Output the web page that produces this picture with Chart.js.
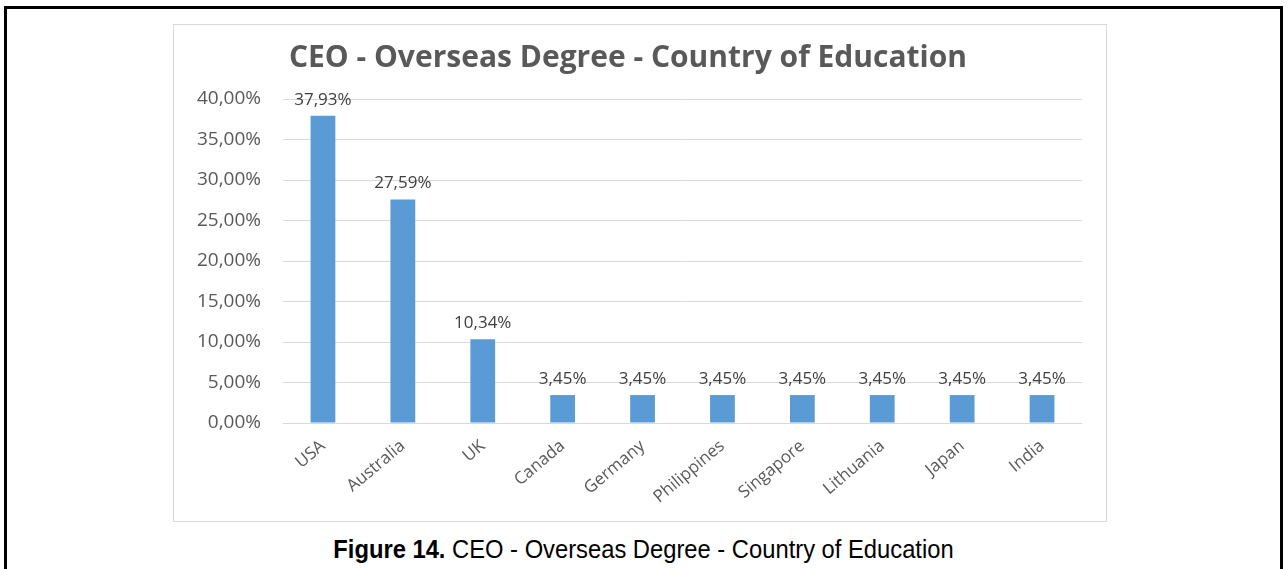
<!DOCTYPE html>
<html>
<head>
<meta charset="utf-8">
<title>CEO - Overseas Degree - Country of Education</title>
<script src="https://cdn.jsdelivr.net/npm/chart.js@4.4.1/dist/chart.umd.min.js"></script>
<style>
    body { margin: 0; background: #fff; width: 1287px; height: 569px; overflow: hidden; position: relative; }
    .frame { position: absolute; left: 4px; top: 6px; width: 1273px; height: 600px; border: 3px solid #000; border-bottom: none; }
    .box { position: absolute; left: 173px; top: 24px; width: 932px; height: 496px; border: 1px solid #d9d9d9; }
    .box canvas { display: block; }
    .caption { position: absolute; left: 0; width: 1287px; top: 535px; text-align: center;
               font-family: "Liberation Sans", Arial, sans-serif; font-size: 25px; color: #000;
               transform: scaleX(0.95); transform-origin: 643px 0; }
    .caption b { font-weight: bold; }
</style>
</head>
<body>
<div class="frame"></div>
<div class="box"><canvas id="myChart" width="932" height="496"></canvas></div>
<div class="caption"><b>Figure 14.</b> CEO - Overseas Degree - Country of Education</div>

<script>
    const countries = ['USA', 'Australia', 'UK', 'Canada', 'Germany', 'Philippines', 'Singapore', 'Lithuania', 'Japan', 'India'];
    const shares = [37.93, 27.59, 10.34, 3.45, 3.45, 3.45, 3.45, 3.45, 3.45, 3.45]; // percent
    const yTicks = [0, 5, 10, 15, 20, 25, 30, 35, 40];

    const fmt = v => v.toFixed(2).replace('.', ',') + '%';

    // value labels above each bar
    const barLabels = {
        id: 'barLabels',
        afterDatasetsDraw(chart) {
            const ctx = chart.ctx;
            const meta = chart.getDatasetMeta(0);
            ctx.save();
            ctx.font = '17px "Open Sans"';
            ctx.fillStyle = '#404040';
            ctx.textAlign = 'center';
            ctx.textBaseline = 'middle';
            meta.data.forEach((bar, i) => {
                ctx.fillText(fmt(shares[i]), bar.x, bar.y - 16);
            });
            ctx.restore();
        }
    };

    function getChart() {
        const ctx = document.getElementById('myChart');

        const chart = new Chart(ctx, {
            type: 'bar',
            data: {
                labels: countries,
                datasets: [{
                    data: shares,
                    backgroundColor: '#5b9bd5',
                    borderWidth: 0,
                    categoryPercentage: 1,
                    barPercentage: 0.31
                }]
            },
            options: {
                responsive: false,
                animation: false,
                layout: { padding: { left: 0, right: 24, top: 0, bottom: 0 } },
                scales: {
                    y: {
                        min: 0,
                        max: 40,
                        afterBuildTicks: axis => { axis.ticks = yTicks.map(v => ({ value: v })); },
                        afterFit: axis => { axis.width = 109; },
                        border: { display: false },
                        grid: { color: '#d9d9d9', drawTicks: false },
                        ticks: {
                            padding: 22,
                            color: '#595959',
                            font: { family: 'Open Sans', size: 19 },
                            callback: v => fmt(v)
                        }
                    },
                    x: {
                        afterFit: axis => { axis.height = 98; },
                        border: { display: false },
                        grid: { display: false },
                        ticks: {
                            minRotation: 40,
                            maxRotation: 40,
                            padding: 5,
                            color: '#595959',
                            font: { family: 'Open Sans', size: 17 }
                        }
                    }
                },
                plugins: {
                    legend: { display: false },
                    tooltip: { enabled: false },
                    title: {
                        display: true,
                        text: 'CEO - Overseas Degree - Country of Education',
                        color: '#595959',
                        font: { family: 'Open Sans', size: 30, weight: 'bold', lineHeight: 1.2 },
                        padding: { top: 15, bottom: 23 }
                    }
                }
            },
            plugins: [barLabels]
        });
    }

    getChart();
</script>
</body>
</html>
